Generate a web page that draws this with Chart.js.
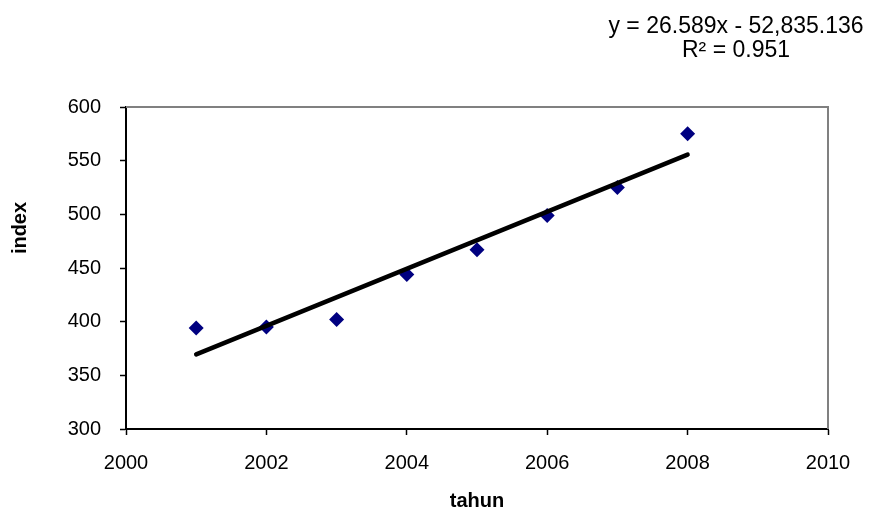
<!DOCTYPE html>
<html>
<head>
<meta charset="utf-8">
<script src="https://cdn.jsdelivr.net/npm/chart.js@4.4.1/dist/chart.umd.min.js"></script>
<style>
  html, body { margin: 0; padding: 0; background: #ffffff; }
  canvas { display: block; }
</style>
</head>
<body>
<canvas id="chart" width="874" height="513"></canvas>
<script>
// Yearly index observations
const years = [2001, 2002, 2003, 2004, 2005, 2006, 2007, 2008];
const indexValues = [394, 395, 402, 444, 467, 499, 525, 575];

// Axis ticks
const xTickValues = [2000, 2002, 2004, 2006, 2008, 2010];
const yTickValues = [300, 350, 400, 450, 500, 550, 600];

// Linear trend: y = slope * x + intercept
const trendSlope = 26.589;
const trendIntercept = -52835.136;
const rSquared = 0.951;
const equationLines = ['y = 26.589x - 52,835.136', 'R² = 0.951'];

const xTitle = 'tahun';
const yTitle = 'index';

const FONT = '"Liberation Sans", Arial, Helvetica, sans-serif';

const points = years.map((yr, i) => ({ x: yr, y: indexValues[i] }));
const trendEnds = [years[0], years[years.length - 1]];
const trendPoints = trendEnds.map(yr => ({ x: yr, y: trendSlope * yr + trendIntercept }));

// Grey top/right frame of the plot area, the vertical axis title and the regression text
const framePlugin = {
  id: 'frame',
  beforeDatasetsDraw(chart) {
    const { ctx, chartArea: a } = chart;
    ctx.save();
    ctx.strokeStyle = '#808080';
    ctx.lineWidth = 2;
    ctx.beginPath();
    ctx.moveTo(a.left, a.top);
    ctx.lineTo(a.right, a.top);
    ctx.lineTo(a.right, a.bottom);
    ctx.stroke();
    ctx.restore();
  },
  afterDraw(chart) {
    const { ctx, chartArea: a } = chart;
    ctx.save();
    ctx.fillStyle = '#000';

    // vertical axis title
    ctx.font = 'bold 20px ' + FONT;
    ctx.textAlign = 'center';
    ctx.textBaseline = 'middle';
    ctx.translate(20, (a.top + a.bottom) / 2 - 40);
    ctx.rotate(-Math.PI / 2);
    ctx.fillText(yTitle, 0, 0);
    ctx.setTransform(1, 0, 0, 1, 0, 0);

    // regression equation and R²
    ctx.font = '23px ' + FONT;
    ctx.textAlign = 'center';
    ctx.textBaseline = 'alphabetic';
    const cx = a.right - 92;
    ctx.fillText(equationLines[0], cx, a.top - 74);
    ctx.fillText(equationLines[1], cx, a.top - 50);
    ctx.restore();
  }
};

new Chart(document.getElementById('chart'), {
  type: 'scatter',
  data: {
    datasets: [
      {
        type: 'line',
        label: 'trend',
        data: trendPoints,
        borderColor: '#000000',
        borderWidth: 4.5,
        borderCapStyle: 'round',
        pointRadius: 0,
        fill: false,
        tension: 0
      },
      {
        label: 'index',
        data: points,
        pointStyle: 'rectRot',
        pointRadius: 7.5,
        pointHoverRadius: 7.5,
        backgroundColor: '#000080',
        borderColor: '#000080',
        borderWidth: 0
      }
    ]
  },
  plugins: [framePlugin],
  options: {
    responsive: false,
    animation: false,
    devicePixelRatio: 1,
    layout: { padding: { top: 107, right: 46, left: 0, bottom: 0 } },
    plugins: {
      legend: { display: false },
      tooltip: { enabled: false }
    },
    scales: {
      x: {
        type: 'linear',
        min: xTickValues[0],
        max: xTickValues[xTickValues.length - 1],
        afterBuildTicks: s => { s.ticks = xTickValues.map(v => ({ value: v })); },
        afterFit: s => { s.height = 84; },
        grid: { drawOnChartArea: false, drawTicks: true, tickLength: 6, tickColor: '#000', tickWidth: 1.5 },
        border: { color: '#000', width: 2 },
        ticks: {
          color: '#000',
          font: { family: FONT, size: 20 },
          padding: 16,
          maxRotation: 0,
          callback: v => String(v)
        },
        title: {
          display: true,
          text: xTitle,
          color: '#000',
          font: { family: FONT, size: 20, weight: 'bold' },
          padding: { top: 0, bottom: 0 }
        }
      },
      y: {
        type: 'linear',
        min: yTickValues[0],
        max: yTickValues[yTickValues.length - 1],
        afterBuildTicks: s => { s.ticks = yTickValues.map(v => ({ value: v })); },
        afterFit: s => { s.width = 126; },
        grid: { drawOnChartArea: false, drawTicks: true, tickLength: 6, tickColor: '#000', tickWidth: 1.5 },
        border: { color: '#000', width: 2 },
        ticks: {
          color: '#000',
          font: { family: FONT, size: 20 },
          padding: 19,
          callback: v => String(v)
        },
        title: { display: false }
      }
    }
  }
});
</script>
</body>
</html>
